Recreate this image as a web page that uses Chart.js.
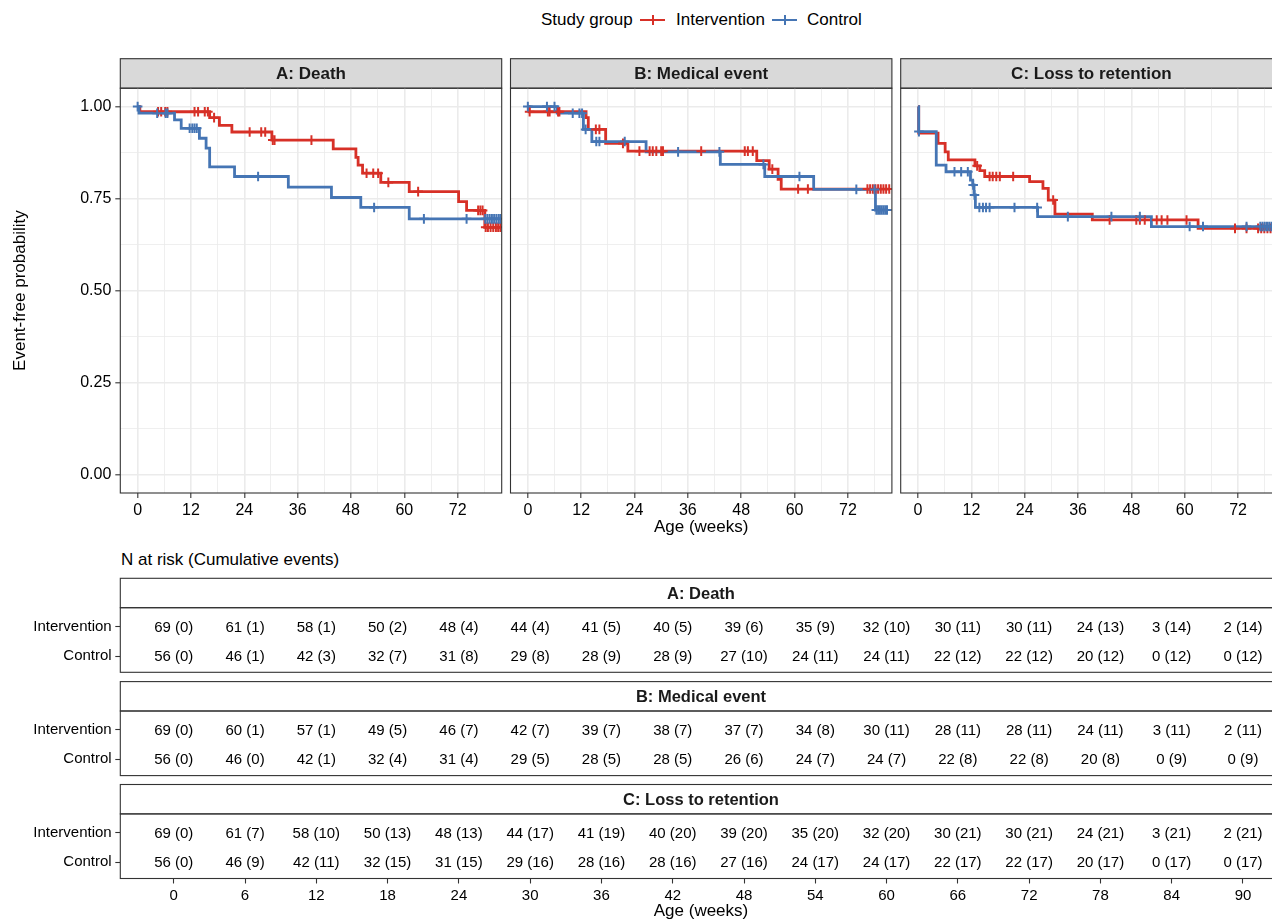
<!DOCTYPE html>
<html>
<head>
<meta charset="utf-8">
<script src="https://cdn.jsdelivr.net/npm/chart.js@4.4.1/dist/chart.umd.min.js"></script>
<style>
  html, body { margin: 0; padding: 0; background: #fff; overflow: hidden; width: 1272px; height: 920px; }
  body { position: relative; font-family: "Liberation Sans", Arial, sans-serif; }
  canvas { position: absolute; }
  .txt { position: absolute; white-space: nowrap; color: #000; font-size: 17px; line-height: 20px; }
  .key { position: absolute; width: 25px; height: 2.8px; }
  .key span { position: absolute; left: 11.5px; top: -3.2px; width: 2px; height: 9.2px; }
</style>
</head>
<body>
<div class="txt" style="left:541px;top:10px">Study group</div>
<div class="key" style="left:640px;top:18.6px;background:#D73027"><span style="background:#D73027"></span></div>
<div class="txt" style="left:676px;top:10px">Intervention</div>
<div class="key" style="left:772px;top:18.6px;background:#4575B4"><span style="background:#4575B4"></span></div>
<div class="txt" style="left:807px;top:10px">Control</div>
<div class="txt" style="left:121px;top:550px">N at risk (Cumulative events)</div>

<script>
// ---------- Kaplan–Meier estimates: step times (weeks), survival after each step, censoring times ----------
// A: Death
const deathIntTime = [0.5, 16.2, 18.4, 21.2, 30.2, 44.0, 49.1, 49.6, 50.6, 54.7, 61.1, 72.2, 74.0, 78.1];
const deathIntSurv = [0.986, 0.970, 0.949, 0.931, 0.909, 0.885, 0.862, 0.841, 0.819, 0.794, 0.769, 0.742, 0.718, 0.672];
const deathIntCens = [4.6, 5.3, 6.2, 6.7, 12.8, 13.6, 15.1, 15.8, 17.2, 25.2, 27.8, 28.7, 30.4, 30.8, 39.1, 51.5, 53.0, 54.1, 56.4, 63.1, 76.6, 77.1, 77.6, 78.3, 78.8, 79.4, 80.0, 80.6, 81.1, 81.6];
const deathCtlTime = [0.3, 8.3, 9.8, 13.9, 15.4, 16.2, 21.8, 33.9, 43.6, 50.2, 61.1];
const deathCtlSurv = [0.982, 0.964, 0.941, 0.914, 0.887, 0.836, 0.810, 0.781, 0.753, 0.726, 0.695];
const deathCtlCens = [0.0, 4.4, 6.3, 6.7, 11.7, 12.3, 12.8, 13.3, 27.1, 53.2, 64.4, 74.0, 78.2, 78.7, 79.2, 79.7, 80.2, 80.7, 81.2, 81.6];

// B: Medical event
const medIntTime = [0.3, 13.1, 13.6, 17.5, 22.5, 51.5, 54.3, 56.3, 57.0];
const medIntSurv = [0.986, 0.970, 0.938, 0.900, 0.879, 0.853, 0.830, 0.802, 0.776];
const medIntCens = [0.4, 4.5, 4.9, 6.8, 7.1, 15.3, 16.1, 21.4, 25.1, 27.4, 28.1, 28.9, 30.0, 30.4, 39.0, 48.8, 49.5, 50.6, 55.0, 60.8, 63.0, 76.4, 77.0, 77.6, 78.2, 78.8, 79.4, 80.0, 80.6, 81.3];
const medCtlTime = [6.6, 12.5, 14.4, 26.6, 43.3, 53.3, 64.3, 78.2];
const medCtlSurv = [0.982, 0.938, 0.905, 0.877, 0.843, 0.810, 0.775, 0.719];
const medCtlCens = [0.0, 4.3, 6.0, 10.1, 11.6, 12.2, 13.0, 15.4, 16.1, 21.8, 33.8, 43.1, 53.0, 61.1, 73.9, 78.0, 78.4, 78.8, 79.2, 79.6, 80.0, 80.4, 80.8];

// C: Loss to retention
const lossIntTime = [0.15, 4.5, 6.1, 6.8, 12.8, 13.9, 15.0, 25.1, 28.1, 29.3, 30.8, 39.2, 63.0];
const lossIntSurv = [0.928, 0.900, 0.877, 0.855, 0.839, 0.826, 0.810, 0.796, 0.778, 0.746, 0.708, 0.692, 0.669];
const lossIntCens = [13.3, 16.1, 16.8, 17.6, 18.4, 21.4, 30.4, 43.1, 49.1, 49.9, 51.0, 53.7, 54.8, 56.1, 60.4, 71.3, 73.9, 76.5, 77.2, 77.9, 78.6, 79.3, 80.0, 80.7, 81.4];
const lossCtlTime = [0.15, 4.1, 6.3, 11.8, 12.3, 12.6, 12.9, 26.9, 52.5];
const lossCtlSurv = [0.932, 0.841, 0.823, 0.800, 0.787, 0.760, 0.726, 0.701, 0.674];
const lossCtlCens = [0.2, 8.2, 9.7, 11.2, 12.4, 12.7, 13.8, 14.6, 15.3, 16.1, 21.7, 26.8, 33.7, 43.5, 49.9, 61.1, 64.1, 73.9, 77.0, 77.5, 78.0, 78.5, 79.0, 79.5, 80.0, 80.5, 81.0, 81.5];

// ---------- Number at risk (cumulative events) ----------
const riskWeeks = [0, 6, 12, 18, 24, 30, 36, 42, 48, 54, 60, 66, 72, 78, 84, 90];
const deathIntN = [69, 61, 58, 50, 48, 44, 41, 40, 39, 35, 32, 30, 30, 24, 3, 2];
const deathIntE = [0, 1, 1, 2, 4, 4, 5, 5, 6, 9, 10, 11, 11, 13, 14, 14];
const deathCtlN = [56, 46, 42, 32, 31, 29, 28, 28, 27, 24, 24, 22, 22, 20, 0, 0];
const deathCtlE = [0, 1, 3, 7, 8, 8, 9, 9, 10, 11, 11, 12, 12, 12, 12, 12];
const medIntN = [69, 60, 57, 49, 46, 42, 39, 38, 37, 34, 30, 28, 28, 24, 3, 2];
const medIntE = [0, 1, 1, 5, 7, 7, 7, 7, 7, 8, 11, 11, 11, 11, 11, 11];
const medCtlN = [56, 46, 42, 32, 31, 29, 28, 28, 26, 24, 24, 22, 22, 20, 0, 0];
const medCtlE = [0, 0, 1, 4, 4, 5, 5, 5, 6, 7, 7, 8, 8, 8, 9, 9];
const lossIntN = [69, 61, 58, 50, 48, 44, 41, 40, 39, 35, 32, 30, 30, 24, 3, 2];
const lossIntE = [0, 7, 10, 13, 13, 17, 19, 20, 20, 20, 20, 21, 21, 21, 21, 21];
const lossCtlN = [56, 46, 42, 32, 31, 29, 28, 28, 27, 24, 24, 22, 22, 20, 0, 0];
const lossCtlE = [0, 9, 11, 15, 15, 16, 16, 16, 16, 17, 17, 17, 17, 17, 17, 17];

// ---------- Labels and ticks ----------
const groupNames = ['Intervention', 'Control'];
const panelTitles = ['A: Death', 'B: Medical event', 'C: Loss to retention'];
const plotXTicks = [0, 6, 12, 18, 24, 30, 36, 42, 48, 54, 60, 66, 72, 78];
const plotYTicks = [0, 0.125, 0.25, 0.375, 0.5, 0.625, 0.75, 0.875, 1];

// ---------- Styling / layout ----------
const RED = '#D73027', BLUE = '#4575B4';
const FONT = "'Liberation Sans', Arial, sans-serif";
Chart.defaults.font.family = FONT;
Chart.defaults.color = '#000';

const PANEL_W = 381.4, PANEL_TOP = 88.2, PANEL_BOT = 493.0, STRIP_H = 29.5;
const PANEL_LEFT = [120.3, 510.5, 900.7];
const TABLE_TOP = [578.3, 681.6, 784.5], HEAD_H = 29.4, BODY_H = 64.6, TABLE_LEFT = 120.3, TABLE_RIGHT = 1281.7;

function addCanvas(L, T, W, H) {
  const c = document.createElement('canvas');
  c.width = W; c.height = H;
  c.style.left = L + 'px'; c.style.top = T + 'px';
  c.style.width = W + 'px'; c.style.height = H + 'px';
  document.body.appendChild(c);
  return c;
}

// survival value of a step curve at time t (where a censor mark sits)
function survAt(times, surv, t) {
  let s = 1;
  for (let k = 0; k < times.length; k++) if (times[k] <= t) s = surv[k];
  return s;
}
function stepPoints(times, surv, cens) {
  const pts = [{ x: 0, y: 1 }];
  times.forEach((t, k) => pts.push({ x: t, y: surv[k] }));
  const end = Math.max(times[times.length - 1], cens[cens.length - 1]);
  pts.push({ x: end, y: surv[surv.length - 1] });
  return pts;
}

// keep the plotting area exactly where the layout padding puts it
function noScalePadding(s) {
  s.paddingLeft = 0; s.paddingRight = 0; s.paddingTop = 0; s.paddingBottom = 0;
}

// Panel frame with a facet strip above it
const framePlugin = {
  id: 'frame',
  beforeDraw(chart, args, o) {
    const { ctx, chartArea: a } = chart;
    ctx.save();
    ctx.fillStyle = o.stripFill;
    ctx.fillRect(a.left, a.top - o.stripH, a.right - a.left, o.stripH);
    ctx.strokeStyle = '#333333';
    ctx.lineWidth = 1.1;
    ctx.strokeRect(a.left, a.top - o.stripH, a.right - a.left, o.stripH);
    ctx.fillStyle = '#1A1A1A';
    ctx.font = 'bold ' + o.stripSize + 'px ' + FONT;
    ctx.textAlign = 'center';
    ctx.textBaseline = 'middle';
    ctx.fillText(o.strip, (a.left + a.right) / 2, a.top - o.stripH / 2 + 1);
    ctx.restore();
  },
  afterDraw(chart) {
    const { ctx, chartArea: a } = chart;
    ctx.save();
    ctx.strokeStyle = '#333333';
    ctx.lineWidth = 1.1;
    ctx.strokeRect(a.left, a.top, a.right - a.left, a.bottom - a.top);
    ctx.restore();
  }
};

// Writes "N (events)" at each point of the risk-table datasets
const riskTextPlugin = {
  id: 'riskText',
  afterDatasetsDraw(chart) {
    const { ctx } = chart;
    ctx.save();
    ctx.fillStyle = '#000';
    ctx.font = '15px ' + FONT;
    ctx.textAlign = 'center';
    ctx.textBaseline = 'middle';
    chart.data.datasets.forEach((ds, di) => {
      const meta = chart.getDatasetMeta(di);
      meta.data.forEach((el, k) => ctx.fillText(ds.riskText[k], el.x, el.y + 1));
    });
    ctx.restore();
  }
};

function isMajor(v, step) { return Math.abs(v / step - Math.round(v / step)) < 1e-9; }

function buildPanel(i, curves) {
  const left = PANEL_LEFT[i];
  const L = i === 0 ? 0 : Math.floor(left) - 2;
  const T = 57;
  const xH = 48;
  const W = Math.ceil(left + PANEL_W) + 3 - L;
  const H = Math.ceil(PANEL_BOT + xH) + 3 - T;
  const yW = i === 0 ? left - L : 0;
  const canvas = addCanvas(L, T, W, H);

  const datasets = [];
  curves.forEach(c => {
    datasets.push({
      data: stepPoints(c.time, c.surv, c.cens), stepped: 'before',
      borderColor: c.color, borderWidth: 2.8, pointRadius: 0, fill: false, order: c.lineOrder
    });
    datasets.push({
      data: c.cens.map(t => ({ x: t, y: survAt(c.time, c.surv, t) })), showLine: false,
      pointStyle: 'cross', pointRadius: 4.8, borderWidth: 2, borderColor: c.color,
      backgroundColor: c.color, order: c.markOrder
    });
  });

  new Chart(canvas, {
    type: 'line',
    data: { datasets },
    options: {
      responsive: false, animation: false, events: [],
      layout: { autoPadding: false, padding: { left: left - L - yW, top: PANEL_TOP - T, right: L + W - (left + PANEL_W), bottom: T + H - PANEL_BOT - xH } },
      plugins: {
        legend: { display: false }, tooltip: { enabled: false },
        frame: { strip: panelTitles[i], stripH: STRIP_H, stripFill: '#D9D9D9', stripSize: 17 }
      },
      scales: {
        x: {
          type: 'linear', min: -3.9, max: 81.9,
          afterBuildTicks: s => { s.ticks = plotXTicks.map(v => ({ value: v })); },
          afterFit: s => { s.height = xH; noScalePadding(s); },
          ticks: { callback: v => isMajor(v, 12) ? String(v) : '', color: '#000', font: { size: 16 }, padding: 3, maxRotation: 0, autoSkip: false },
          grid: {
            color: '#EBEBEB',
            lineWidth: c => (c.tick && isMajor(c.tick.value, 12)) ? 1.6 : 0.8,
            tickLength: 5,
            tickColor: c => (c.tick && isMajor(c.tick.value, 12)) ? '#333333' : 'rgba(0,0,0,0)',
            tickWidth: 1.1
          },
          border: { display: false },
          title: { display: i === 1, text: 'Age (weeks)', color: '#000', font: { size: 17 }, padding: { top: 0, bottom: 3.8 } }
        },
        y: {
          type: 'linear', min: -0.05, max: 1.05,
          afterBuildTicks: s => { s.ticks = plotYTicks.map(v => ({ value: v })); },
          afterFit: s => { s.width = yW; noScalePadding(s); },
          ticks: { display: i === 0, callback: v => isMajor(v, 0.25) ? v.toFixed(2) : '', color: '#000', font: { size: 16 }, padding: 4, autoSkip: false },
          grid: {
            color: '#EBEBEB',
            lineWidth: c => (c.tick && isMajor(c.tick.value, 0.25)) ? 1.6 : 0.8,
            drawTicks: i === 0,
            tickLength: 5,
            tickColor: c => (c.tick && isMajor(c.tick.value, 0.25)) ? '#333333' : 'rgba(0,0,0,0)',
            tickWidth: 1.1
          },
          border: { display: false },
          title: { display: i === 0, text: 'Event-free probability', color: '#000', font: { size: 17 }, padding: { top: 10.3, bottom: 0 } }
        }
      }
    },
    plugins: [framePlugin]
  });
}

function buildRiskTable(i, intN, intE, ctlN, ctlE) {
  const boxTop = TABLE_TOP[i];
  const divider = boxTop + HEAD_H;
  const bottom = divider + BODY_H;
  const showAxis = i === 2;
  const xH = showAxis ? 44 : 0;
  const L = 0, T = Math.floor(boxTop) - 1, W = 1286;
  const H = Math.ceil(bottom + xH) + 3 - T;
  const canvas = addCanvas(L, T, W, H);

  const rowsN = [intN, ctlN], rowsE = [intE, ctlE];
  const datasets = [0, 1].map(g => ({
    data: riskWeeks.map(w => ({ x: w, y: g })),
    riskText: rowsN[g].map((n, k) => n + ' (' + rowsE[g][k] + ')'),
    showLine: false, pointRadius: 0
  }));

  new Chart(canvas, {
    type: 'line',
    data: { datasets },
    options: {
      responsive: false, animation: false, events: [],
      layout: { autoPadding: false, padding: { left: 0, top: divider - T, right: W - TABLE_RIGHT, bottom: T + H - bottom - xH } },
      plugins: {
        legend: { display: false }, tooltip: { enabled: false },
        frame: { strip: panelTitles[i], stripH: HEAD_H, stripFill: '#FFFFFF', stripSize: 16.5 }
      },
      scales: {
        x: {
          type: 'linear', min: -4.5, max: 93.26, display: showAxis,
          afterBuildTicks: s => { s.ticks = riskWeeks.map(v => ({ value: v })); },
          afterFit: s => { s.height = xH; noScalePadding(s); },
          ticks: { color: '#000', font: { size: 15 }, padding: 3, maxRotation: 0, autoSkip: false },
          grid: { drawOnChartArea: false, tickLength: 5, tickColor: '#333333', tickWidth: 1.1 },
          border: { display: false },
          title: { display: true, text: 'Age (weeks)', color: '#000', font: { size: 17 }, padding: { top: 0, bottom: 1.3 } }
        },
        y: {
          type: 'linear', min: -0.648, max: 1.556, reverse: true,
          afterBuildTicks: s => { s.ticks = [0, 1].map(v => ({ value: v })); },
          afterFit: s => { s.width = TABLE_LEFT - L; noScalePadding(s); },
          ticks: { callback: v => groupNames[v], color: '#000', font: { size: 15 }, padding: 3.6, autoSkip: false },
          grid: { drawOnChartArea: false, tickLength: 5, tickColor: '#333333', tickWidth: 1.1 },
          border: { display: false }
        }
      }
    },
    plugins: [framePlugin, riskTextPlugin]
  });
}

buildPanel(0, [
  { time: deathCtlTime, surv: deathCtlSurv, cens: deathCtlCens, color: BLUE, lineOrder: 2, markOrder: 0 },
  { time: deathIntTime, surv: deathIntSurv, cens: deathIntCens, color: RED, lineOrder: 3, markOrder: 1 }
]);
buildPanel(1, [
  { time: medCtlTime, surv: medCtlSurv, cens: medCtlCens, color: BLUE, lineOrder: 2, markOrder: 0 },
  { time: medIntTime, surv: medIntSurv, cens: medIntCens, color: RED, lineOrder: 3, markOrder: 1 }
]);
buildPanel(2, [
  { time: lossCtlTime, surv: lossCtlSurv, cens: lossCtlCens, color: BLUE, lineOrder: 2, markOrder: 0 },
  { time: lossIntTime, surv: lossIntSurv, cens: lossIntCens, color: RED, lineOrder: 3, markOrder: 1 }
]);

buildRiskTable(0, deathIntN, deathIntE, deathCtlN, deathCtlE);
buildRiskTable(1, medIntN, medIntE, medCtlN, medCtlE);
buildRiskTable(2, lossIntN, lossIntE, lossCtlN, lossCtlE);
</script>
</body>
</html>
